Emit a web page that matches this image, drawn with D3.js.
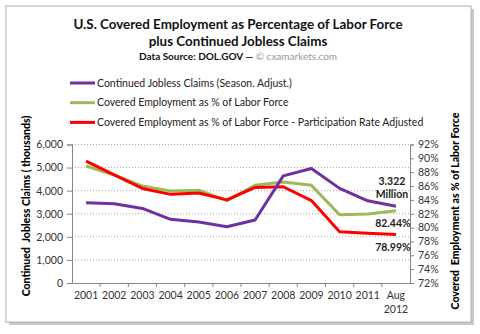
<!DOCTYPE html>
<html>
<head>
<meta charset="utf-8">
<script src="https://cdn.jsdelivr.net/npm/d3@7"></script>
<style>
  html, body { margin: 0; padding: 0; background: #fff; }
  svg { display: block; font-family: Lato, "Open Sans", sans-serif; }
</style>
</head>
<body>
<svg id="chart" width="480" height="334"></svg>
<script>
// ---- data ----
const categories = ["2001","2002","2003","2004","2005","2006","2007","2008","2009","2010","2011","Aug 2012"];
const claims = [3476, 3430, 3230, 2760, 2640, 2440, 2730, 4640, 4960, 4100, 3560, 3322];           // thousands
const coveredPct = [88.9, 87.6, 86.0, 85.3, 85.4, 83.9, 86.1, 86.6, 86.1, 81.85, 81.95, 82.44];   // %
const adjustedPct = [89.6, 87.6, 85.65, 84.8, 85.0, 84.0, 85.8, 85.9, 83.9, 79.4, 79.2, 78.99];   // %
const leftTicks = [0, 1000, 2000, 3000, 4000, 5000, 6000];
const rightTicks = [72, 74, 76, 78, 80, 82, 84, 86, 88, 90, 92];
const seriesNames = [
  "Continued Jobless Claims (Season. Adjust.)",
  "Covered Employment as % of Labor Force",
  "Covered Employment as % of Labor Force - Participation Rate Adjusted"
];
const seriesColors = ["#7030A0", "#9BBB59", "#FF0000"];

const svg = d3.select("#chart");

// frame with shadow
svg.append("rect").attr("x", 9).attr("y", 9).attr("width", 465).attr("height", 316).attr("fill", "#c8c8c8");
svg.append("rect").attr("x", 6).attr("y", 6).attr("width", 465).attr("height", 316)
  .attr("fill", "#fff").attr("stroke", "#b0b0b0").attr("stroke-width", 1);

// titles
svg.append("text").attr("x", 238).attr("y", 29).attr("text-anchor", "middle")
  .attr("font-size", 13.4).attr("font-weight", "bold").attr("fill", "#111")
  .text("U.S. Covered Employment as Percentage of Labor Force");
svg.append("text").attr("x", 238).attr("y", 46).attr("text-anchor", "middle")
  .attr("font-size", 13.4).attr("font-weight", "bold").attr("fill", "#111")
  .text("plus Continued Jobless Claims");
const src = svg.append("text").attr("x", 238).attr("y", 59.5).attr("text-anchor", "middle")
  .attr("font-size", 10).attr("font-weight", "bold").attr("fill", "#111");
src.append("tspan").text("Data Source: DOL.GOV — ");
src.append("tspan").attr("fill", "#999").attr("font-weight", "normal").text("© cxamarkets.com");

// scales
const x = d3.scaleBand().domain(categories).range([72, 410]).padding(0);
const yL = d3.scaleLinear().domain([0, 6000]).range([283, 144.5]);
const yR = d3.scaleLinear().domain([72, 92]).range([283, 144.5]);

// gridlines
svg.append("g").selectAll("line").data(leftTicks.filter(d => d > 0)).join("line")
  .attr("x1", 72).attr("x2", 410)
  .attr("y1", d => yL(d)).attr("y2", d => yL(d))
  .attr("stroke", "#a8a8a8").attr("stroke-width", 1).attr("stroke-dasharray", "1,2");

// left axis
const gL = svg.append("g").attr("transform", "translate(72,0)")
  .call(d3.axisLeft(yL).tickValues(leftTicks).tickFormat(d3.format(",")).tickSize(5).tickPadding(4));
// right axis
const gR = svg.append("g").attr("transform", "translate(410,0)")
  .call(d3.axisRight(yR).tickValues(rightTicks).tickFormat(d => d + "%").tickSize(4).tickPadding(4));
// bottom axis
const gB = svg.append("g").attr("transform", "translate(0,283)")
  .call(d3.axisBottom(x).tickSize(0).tickPadding(9));
// category boundary ticks
svg.append("g").selectAll("line").data(categories.slice(1)).join("line")
  .attr("x1", d => x(d)).attr("x2", d => x(d))
  .attr("y1", 283).attr("y2", 287).attr("stroke", "#868686");

[gL, gR, gB].forEach(g => {
  g.selectAll("path.domain").attr("stroke", "#868686");
  g.selectAll(".tick line").attr("stroke", "#868686");
  g.selectAll("text").attr("font-family", "Lato, sans-serif").attr("font-size", 10.5).attr("fill", "#333");
});
// two-line last category label
gB.selectAll(".tick text").each(function(d) {
  if (d.indexOf(" ") > 0) {
    const t = d3.select(this), parts = d.split(" ");
    t.text(null);
    t.append("tspan").attr("x", 0).attr("dy", "0.71em").text(parts[0]);
    t.append("tspan").attr("x", 0).attr("dy", "1.3em").text(parts[1]);
    t.attr("dy", null);
  }
});

// axis titles
svg.append("text").attr("transform", "translate(30,206) rotate(-90)").attr("text-anchor", "middle")
  .attr("font-size", 10.5).attr("font-weight", 900).attr("fill", "#000")
  .attr("xml:space", "preserve").text("Continued  Jobless Claims ( thousands)");
svg.append("text").attr("transform", "translate(459,211) rotate(-90)").attr("text-anchor", "middle")
  .attr("font-size", 10.5).attr("font-weight", 900).attr("fill", "#000")
  .attr("xml:space", "preserve").text("Covered  Employment as % of Labor Force");

// lines
const cx = d => x(d) + x.bandwidth() / 2;
const lineL = d3.line().x(d => cx(d.c)).y(d => yL(d.v));
const lineR = d3.line().x(d => cx(d.c)).y(d => yR(d.v));
const zip = arr => categories.map((c, i) => ({ c, v: arr[i] }));
svg.append("path").datum(zip(coveredPct)).attr("d", lineR).attr("fill", "none")
  .attr("stroke", seriesColors[1]).attr("stroke-width", 3).attr("stroke-linejoin", "round");
svg.append("path").datum(zip(adjustedPct)).attr("d", lineR).attr("fill", "none")
  .attr("stroke", seriesColors[2]).attr("stroke-width", 3).attr("stroke-linejoin", "round");
svg.append("path").datum(zip(claims)).attr("d", lineL).attr("fill", "none")
  .attr("stroke", seriesColors[0]).attr("stroke-width", 3).attr("stroke-linejoin", "round");

// end annotations
const last = categories[categories.length - 1];
const ann = svg.append("g").attr("font-size", 10.5).attr("font-weight", "bold").attr("fill", "#222")
  .attr("text-anchor", "middle");
ann.append("text").attr("x", cx(last) - 4).attr("y", yL(claims[claims.length - 1]) - 21)
  .text(d3.format(".3f")(claims[claims.length - 1] / 1000));
ann.append("text").attr("x", cx(last) - 4).attr("y", yL(claims[claims.length - 1]) - 8).text("Million");
ann.append("text").attr("x", cx(last) - 3).attr("y", yR(coveredPct[coveredPct.length - 1]) + 16)
  .text(coveredPct[coveredPct.length - 1].toFixed(2) + "%");
ann.append("text").attr("x", cx(last) - 3).attr("y", yR(adjustedPct[adjustedPct.length - 1]) + 16)
  .text(adjustedPct[adjustedPct.length - 1].toFixed(2) + "%");

// legend
const leg = svg.append("g");
seriesNames.forEach((n, i) => {
  const yy = 83 + i * 19.7;
  leg.append("line").attr("x1", 70).attr("x2", 95).attr("y1", yy).attr("y2", yy)
    .attr("stroke", seriesColors[i]).attr("stroke-width", 3);
  leg.append("text").attr("x", 97).attr("y", yy + 3.7).attr("font-size", 10.5).attr("fill", "#222").text(n);
});
</script>
</body>
</html>
